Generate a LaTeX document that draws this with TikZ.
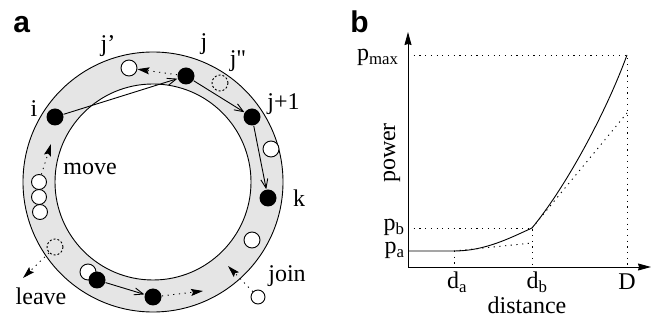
\documentclass[tikz,border=0pt]{standalone}
\usepackage{fontspec}
\setmainfont{Liberation Serif}
\setsansfont{Liberation Sans}
\newfontfamily\rawserif{Liberation Serif}[Ligatures=ResetAll]
\usetikzlibrary{arrows.meta}
\definecolor{ringgray}{gray}{0.9}

\begin{document}
\begin{tikzpicture}[
    x=1pt, y=-1pt,
    line width=0.9pt,
    font=\fontsize{24}{28}\selectfont,
    peer/.style={circle, fill=black, minimum size=17pt, inner sep=0pt},
    free/.style={circle, draw, fill=white, minimum size=16pt, inner sep=0pt},
    ghost/.style={circle, draw, dash pattern=on 2pt off 2pt, minimum size=16pt, inner sep=0pt},
    tag/.style={inner sep=0pt, anchor=base},
    panel/.style={inner sep=0pt, anchor=base west, font=\fontsize{30}{34}\selectfont\sffamily\bfseries},
    steparrow/.style={-{Straight Barb[length=9pt, width=7pt]}},
    dotarrow/.style={dash pattern=on 1.2pt off 4.5pt, -{Stealth[length=12pt, width=7pt, inset=2pt]}},
    axis/.style={-{Stealth[length=13pt, width=7pt, inset=1pt]}},
    guide/.style={dash pattern=on 1.2pt off 4.5pt}
  ]
    \useasboundingbox (0,0) rectangle (659,320);

    % panel a: the ring
    \coordinate (hub) at (153,182);
    \fill[ringgray, even odd rule] (hub) circle (130pt) (hub) circle (98pt);
    \draw (hub) circle (130pt);
    \draw (hub) circle (98pt);

    \node[free] (jp) at (129,68) {};
    \node[ghost] (jpp) at (220,83) {};
    \node[free] (f1) at (271,149) {};
    \node[free] (f2) at (252,240) {};
    \node[free, minimum size=15pt] (s1) at (39,182) {};
    \node[free, minimum size=15pt] (s2) at (39,197) {};
    \node[free, minimum size=15pt] (s3) at (40,212) {};
    \node[ghost] (gone) at (55,247) {};
    \node[free] (f3) at (88,272) {};
    \node[free, minimum size=14pt] (new) at (258,297) {};

    \node[peer] (i) at (55,117) {};
    \node[peer] (j) at (186,76) {};
    \node[peer] (jn) at (252,117) {};
    \node[peer] (k) at (268,198) {};
    \node[peer] (b1) at (97,280) {};
    \node[peer] (b2) at (153,297) {};

    \coordinate (movetip) at (51,144);
    \coordinate (leavetip) at (23,278);
    \coordinate (slidetip) at (203,291);
    \coordinate (jointip) at (228,266);

    \draw[steparrow] (i) -- (j);
    \draw[steparrow] (j) -- (jn);
    \draw[steparrow] (jn) -- (k);
    \draw[steparrow] (b1) -- (b2);
    \draw[dotarrow] (j) -- (jp);
    \draw[dotarrow] (s1) -- (movetip);
    \draw[dotarrow] (gone) -- (leavetip);
    \draw[dotarrow] (b2) -- (slidetip);
    \draw[dotarrow] (new) -- (jointip);

    \node[tag] (li) at (34,117) {i};
    \node[tag] (ljp) at (108,52) {j'};
    \node[tag] (lj) at (204,50) {j};
    \node[tag] (ljpp) at (238,67) {j{\rawserif"}};
    \node[tag, anchor=base west] (ljn) at (267,110) {j+1};
    \node[tag] (lk) at (299,207) {k};
    \node[tag, anchor=base west] (lmove) at (63,175) {move};
    \node[tag] (lleave) at (41,305) {leave};
    \node[tag] (ljoin) at (287,282) {join};

    \node[panel] (pa) at (13,33) {a};
    \node[panel] (pb) at (350,33) {b};

    % panel b: power over distance
    \coordinate (O) at (408,267);
    \coordinate (ytop) at (408,32);
    \coordinate (xend) at (651,267);
    \coordinate (A) at (454,251);
    \coordinate (B) at (532,228);
    \coordinate (M) at (627,55);

    \draw[guide] (O |- M) -- (M) -- (M |- O);
    \draw[guide] (O |- B) -- (B) -- (B |- O);
    \draw[guide] (A) -- (A |- O);
    \draw[guide] (A) -- (532,243);
    \draw[guide] (B) -- (627,113);
    \draw (O |- A) -- (A) .. controls (485,251) and (510,238) .. (B)
      .. controls (565,188) and (605,115) .. (M);
    \draw[axis] (O) -- (ytop);
    \draw[axis] (O) -- (xend);

    \node[tag, anchor=base east] (lpmax) at (399,61) {p\textsubscript{max}};
    \node[tag, anchor=base east] (lpb) at (405,231) {p\textsubscript{b}};
    \node[tag, anchor=base east] (lpa) at (405,254) {p\textsubscript{a}};
    \node[tag] (lda) at (457,289) {d\textsubscript{a}};
    \node[tag] (ldb) at (537,289) {d\textsubscript{b}};
    \node[tag] (lD) at (627,290) {D};
    \node[tag] (ldist) at (527,314) {distance};
    \node[tag, rotate=90] (lpow) at (395,153) {power};
\end{tikzpicture}
\end{document}
